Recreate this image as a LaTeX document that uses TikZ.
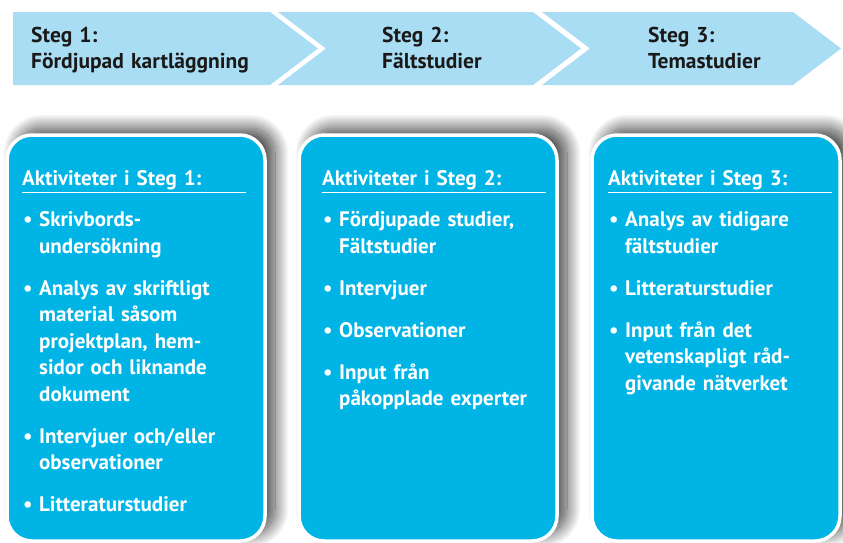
\documentclass[tikz,border=0pt]{standalone}
\usepackage{fontspec}
\setmainfont{PT Sans}
\usetikzlibrary{positioning,shadows.blur}

\definecolor{bandblau}{HTML}{A9DDF3}
\definecolor{kastenblau}{HTML}{00B5E6}

\newcommand{\punkt}[1]{\par\vspace{15.5pt}\hangindent=17pt\hangafter=1\noindent\hspace*{1pt}\makebox[16pt][l]{\textbullet}#1\par}
\newcommand{\rubrik}[1]{#1\par\vspace{2.5pt}\hrule height 1pt\prevdepth=0pt\vspace{-8pt}}

\tikzset{
	band/.style={fill=bandblau},
	bandtext/.style={anchor=base west,inner sep=0pt,text width=250pt,align=left,font=\fontsize{21.5}{26}\selectfont\bfseries,text=black!90},
	kasten/.style={fill=kastenblau,draw=white,line width=3.5pt,rounded corners=25pt,minimum height=406pt,
		blur shadow={shadow xshift=10pt,shadow yshift=7pt,shadow blur radius=14pt,shadow blur steps=30,shadow opacity=75}},
	inhalt/.style={anchor=base west,inner sep=0pt,text width=224pt,align=left,font=\fontsize{21}{26.5}\selectfont\bfseries,text=white}
}

\begin{document}
\begin{tikzpicture}[x=1pt,y=-1pt,node distance=292pt,on grid]
				\useasboundingbox (0,0) rectangle (843,542);
				\fill[band] (13,12) -- (270,12) -- (318,48.5) -- (270,85) -- (13,85) -- cycle;
				\fill[band] (278,12) -- (533,12) -- (581,48.5) -- (533,85) -- (278,85) -- (326,48.5) -- cycle;
				\fill[band] (542,12) -- (793,12) -- (841,48.5) -- (793,85) -- (542,85) -- (590,48.5) -- cycle;
				\node[bandtext] (st_1) at (31,42) {Steg 1:\\Fördjupad kartläggning};
				\node[bandtext] (st_2) at (382,42) {Steg 2:\\Fältstudier};
				\node[bandtext] (st_3) at (648,42) {Steg 3:\\Temastudier};
				\node[kasten,minimum width=258pt] (k_1) at (136,338) {};
				\node[kasten,minimum width=258pt] (k_2) [right=of k_1] {};
				\node[kasten,minimum width=248pt] (k_3) [right=288pt of k_2] {};
				\node[inhalt] (t_1) at (22,185) {\rubrik{Aktiviteter i Steg 1:}
					\punkt{Skrivbords-\newline undersökning}
					\punkt{Analys av skriftligt\newline material såsom\newline projektplan, hem-\newline sidor och liknande\newline dokument}
					\punkt{Intervjuer och/eller\newline observationer}
					\punkt{Litteraturstudier}};
				\node[inhalt] (t_2) at (322,185) {\rubrik{Aktiviteter i Steg 2:}
					\punkt{Fördjupade studier,\newline Fältstudier}
					\punkt{Intervjuer}
					\punkt{Observationer}
					\punkt{Input från\newline påkopplade experter}};
				\node[inhalt] (t_3) at (608,185) {\rubrik{Aktiviteter i Steg 3:}
					\punkt{Analys av tidigare\newline fältstudier}
					\punkt{Litteraturstudier}
					\punkt{Input från det\newline vetenskapligt råd-\newline givande nätverket}};
			\end{tikzpicture}
\end{document}
